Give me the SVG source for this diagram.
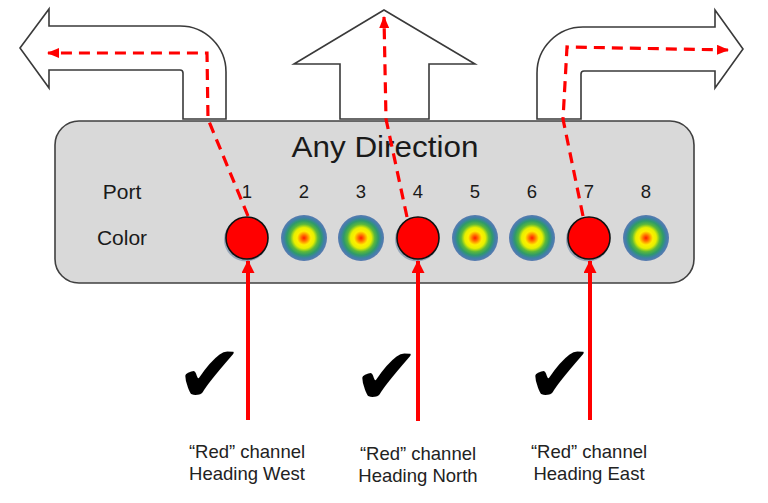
<svg xmlns="http://www.w3.org/2000/svg" width="768" height="503" viewBox="0 0 768 503">
<style>
.arrow{fill:#ffffff;stroke:#3a3a3a;stroke-width:1.6;stroke-linejoin:miter}
.box{fill:#d9d9d9;stroke:#404040;stroke-width:1.6}
.t{font-family:"Liberation Sans",Arial,sans-serif;fill:#1a1a1a}
.dash{fill:none;stroke:#ff0000;stroke-width:3.2;stroke-dasharray:11 7}
.solid{fill:none;stroke:#ff0000;stroke-width:4}
.red{fill:#ff0000;stroke:#111111;stroke-width:1.6}
.glow{fill:#4a6a95;opacity:0.45}
.grad{fill:url(#rg)}
.chk{font-family:"DejaVu Sans",sans-serif;font-size:80px;fill:#000000}
.lbl{font-family:"Liberation Sans",Arial,sans-serif;font-size:18.5px;fill:#222222;text-anchor:middle}
</style>
<defs>
<radialGradient id="rg" cx="0.5" cy="0.5" r="0.5">
<stop offset="0" stop-color="#ff1a00"/>
<stop offset="0.12" stop-color="#ff6a00"/>
<stop offset="0.3" stop-color="#ffee00"/>
<stop offset="0.45" stop-color="#e6f000"/>
<stop offset="0.6" stop-color="#5cb83a"/>
<stop offset="0.75" stop-color="#2e9a6a"/>
<stop offset="0.88" stop-color="#3f7fa8"/>
<stop offset="1" stop-color="#5a7bb0"/>
</radialGradient>
<marker id="ah" markerUnits="userSpaceOnUse" viewBox="0 0 12 10" refX="11" refY="5" markerWidth="12" markerHeight="10" orient="auto">
<path d="M0,0 L12,5 L0,10 Z" fill="#ff0000"/>
</marker>
<marker id="ahs" markerUnits="userSpaceOnUse" viewBox="0 0 13 13" refX="12" refY="6.5" markerWidth="13" markerHeight="13" orient="auto">
<path d="M0,0 L13,6.5 L0,13 Z" fill="#ff0000"/>
</marker>
</defs>

<g id="arrow-west">
<path class="arrow" d="M20,48 L49,9 L49,26 L180,26 A46,46 0 0 1 226,72 L226,119 L183,119 L183,73 Q183,70 180,70 L49,70 L49,88 Z"/>
</g>
<g id="arrow-north">
<path class="arrow" d="M384,10 L475,64 L429,64 L429,119 L340,119 L340,64 L294,64 Z"/>
</g>
<g id="arrow-east">
<path class="arrow" d="M743,49 L715,10 L715,27 L583,27 A46,46 0 0 0 537,73 L537,119 L581,119 L581,74 Q581,71 584,71 L715,71 L715,88 Z"/>
</g>

<g id="device">
<rect class="box" x="55" y="121" width="639" height="162" rx="24" ry="24"/>
<text class="t" x="385" y="157" font-size="29" text-anchor="middle" textLength="187" lengthAdjust="spacingAndGlyphs">Any Direction</text>
<text class="t" x="122" y="199" font-size="21" text-anchor="middle">Port</text>
<text class="t" x="122" y="245" font-size="21" text-anchor="middle">Color</text>
<text class="t" x="247" y="198" font-size="18.5" text-anchor="middle">1</text>
<text class="t" x="304" y="198" font-size="18.5" text-anchor="middle">2</text>
<text class="t" x="361" y="198" font-size="18.5" text-anchor="middle">3</text>
<text class="t" x="418" y="198" font-size="18.5" text-anchor="middle">4</text>
<text class="t" x="475" y="198" font-size="18.5" text-anchor="middle">5</text>
<text class="t" x="532" y="198" font-size="18.5" text-anchor="middle">6</text>
<text class="t" x="589" y="198" font-size="18.5" text-anchor="middle">7</text>
<text class="t" x="646" y="198" font-size="18.5" text-anchor="middle">8</text>
</g>

<g id="ports">
<circle class="glow" cx="246" cy="239.5" r="22"/>
<circle class="red" cx="247" cy="238" r="21"/>
<circle class="grad" cx="304" cy="238" r="23"/>
<circle class="grad" cx="361" cy="238" r="23"/>
<circle class="glow" cx="417" cy="239.5" r="22"/>
<circle class="red" cx="418" cy="238" r="21"/>
<circle class="grad" cx="475" cy="238" r="23"/>
<circle class="grad" cx="532" cy="238" r="23"/>
<circle class="glow" cx="588" cy="239.5" r="22"/>
<circle class="red" cx="589" cy="238" r="21"/>
<circle class="grad" cx="646" cy="238" r="23"/>
</g>

<g id="connectors">
<polyline class="dash" points="248,216 208,119 207,53 48,53" marker-end="url(#ah)"/>
<polyline class="dash" points="407,217 386,119 384,17" marker-end="url(#ah)"/>
<polyline class="dash" points="583,216 563,119 567,47 728,50" marker-end="url(#ah)"/>
<line class="solid" x1="248" y1="420" x2="248" y2="261" marker-end="url(#ahs)"/>
<line class="solid" x1="418" y1="421" x2="418" y2="261" marker-end="url(#ahs)"/>
<line class="solid" x1="590" y1="420" x2="590" y2="261" marker-end="url(#ahs)"/>
</g>

<g id="checks">
<text class="chk" x="176" y="402">✔</text>
<text class="chk" x="353" y="404">✔</text>
<text class="chk" x="526" y="402">✔</text>
</g>

<g id="labels">
<text class="lbl" x="247" y="458">“Red” channel</text>
<text class="lbl" x="247" y="480">Heading West</text>
<text class="lbl" x="418" y="460">“Red” channel</text>
<text class="lbl" x="418" y="482">Heading North</text>
<text class="lbl" x="589" y="458">“Red” channel</text>
<text class="lbl" x="589" y="480">Heading East</text>
</g>
</svg>
